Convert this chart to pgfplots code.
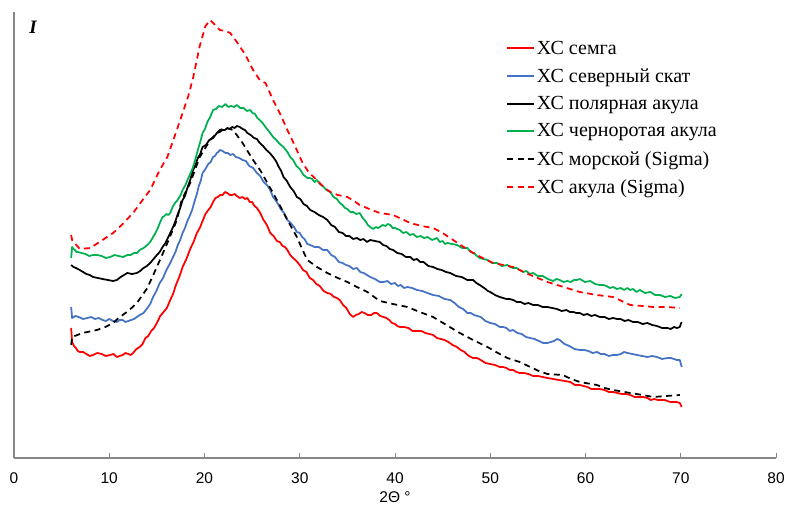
\documentclass[border=0pt]{standalone}
\usepackage{pgfplots}
\pgfplotsset{compat=1.18}
\usepackage{fontspec}
\setmainfont{Liberation Serif}
\newfontfamily\arial{Liberation Sans}
\definecolor{cred}{RGB}{255,0,0}
\definecolor{cblue}{RGB}{68,114,196}
\definecolor{cgreen}{RGB}{0,176,80}
\definecolor{axgray}{RGB}{134,134,134}
\begin{document}
\begin{tikzpicture}[x=1pt,y=1pt]
\path[use as bounding box] (0,0) rectangle (787,506);
\begin{axis}[
  at={(14pt,48pt)}, anchor=south west,
  width=762pt, height=446pt, scale only axis,
  xmin=0, xmax=80, ymin=0, ymax=446,
  axis lines=left,
  axis line style={-, draw=axgray, line width=1.3pt},
  xtick={0,10,...,80}, ytick=\empty,
  tick align=inside, major tick length=5pt,
  tick style={axgray, line width=0.9pt},
  /pgf/number format/assume math mode=true,
  xticklabel style={font=\arial\fontsize{15.5}{18}\selectfont, anchor=center, yshift=-20pt},
  xlabel={2Θ °},
  xlabel style={font=\arial\fontsize{15.5}{18}\selectfont, at={(axis description cs:0.5,0)}, anchor=center, yshift=-39pt},
  clip=false,
  legend style={draw=none, fill=none, at={(axis description cs:0.6457,0.94)}, anchor=north west,
    font=\fontsize{20}{22}\selectfont, row sep=8.7pt, inner sep=0pt,
    /tikz/every even column/.append style={column sep=8pt}},
  legend cell align=left,
  legend image code/.code={\draw[#1] (0pt,0pt) -- (27pt,0pt);},
  every axis plot/.append style={line width=1.75pt, line join=round},
]
% ХС семга
\addplot[cred] coordinates {
(6.0,130) (6.1,116) (6.3,112) (6.5,110) (6.7,107) (6.9,106) (7.25,106) (7.6,104) (7.95,102) (8.3,103) (8.75,105) (9.2,104) (9.65,102) (10.1,103) (10.45,104) (10.8,101) (11.1,102) (11.4,103) (11.7,105) (12.0,104) (12.25,103) (12.5,105) (12.85,109) (13.2,111) (13.5,114) (13.8,120) (14.1,122) (14.4,127) (14.7,130) (15.0,135) (15.35,142) (15.7,146) (16.05,150) (16.4,158) (16.7,164) (17.0,173) (17.35,181) (17.7,191) (18.1,199) (18.5,209) (18.85,216) (19.2,225) (19.5,230) (19.8,237) (20.1,244) (20.4,248) (20.65,251) (20.9,256) (21.15,260) (21.4,261) (21.65,263) (21.9,263) (22.15,266) (22.4,265) (22.65,263) (22.9,263) (23.15,264) (23.4,262) (23.7,260) (24.0,261) (24.25,259) (24.5,260) (24.75,256) (25.0,256) (25.25,252) (25.5,250) (25.85,245) (26.2,238) (26.55,233) (26.9,225) (27.25,222) (27.6,217) (27.9,216) (28.2,212) (28.45,211) (28.7,208) (29.0,203) (29.3,200) (29.65,197) (30.0,193) (30.35,188) (30.7,186) (31.05,180) (31.4,178) (31.75,174) (32.1,172) (32.5,167) (32.9,165) (33.25,164) (33.6,161) (33.9,160) (34.2,158) (34.55,153) (34.9,150) (35.25,144) (35.6,141) (35.9,143) (36.2,144) (36.5,146) (36.8,145) (37.15,143) (37.5,143) (37.8,145) (38.1,145) (38.45,142) (38.8,141) (39.1,140) (39.4,138) (39.7,135) (40.0,134) (40.25,132) (40.5,131) (40.95,131) (41.4,130) (41.85,127) (42.3,127) (42.75,127) (43.2,125) (43.6,124) (44.0,123) (44.4,120) (44.8,119) (45.2,118) (45.6,116) (46.05,113) (46.5,111) (46.9,108) (47.3,106) (47.75,102) (48.2,100) (48.6,100) (49.0,98) (49.5,95) (50.0,94) (50.5,93) (51.0,91) (51.35,91) (51.7,90) (52.05,88) (52.4,88) (52.75,86) (53.1,85) (53.55,85) (54.0,84) (54.5,82) (55.0,82) (55.5,81) (56.0,80) (56.6,79) (57.2,78) (57.8,77) (58.4,76) (58.9,73) (59.4,73) (59.8,72) (60.2,71) (60.6,69) (61.0,69) (61.5,69) (62.0,68) (62.45,66) (62.9,66) (63.35,65) (63.8,64) (64.25,64) (64.7,63) (65.15,61) (65.6,61) (66.05,61) (66.5,60) (66.85,58) (67.2,59) (67.6,58) (68.0,58) (68.3,58) (68.6,57) (68.9,56) (69.2,56) (69.55,56) (69.9,55) (70.1,51)
};
\addlegendentry{ХС семга}
% ХС северный скат
\addplot[cblue] coordinates {
(6.0,151) (6.1,140) (6.45,142) (6.8,141) (7.25,139) (7.7,140) (8.1,141) (8.5,139) (8.9,140) (9.3,138) (9.65,137) (10.0,139) (10.4,137) (10.8,136) (11.1,138) (11.4,138) (11.7,136) (12.0,137) (12.3,138) (12.6,139) (12.9,141) (13.2,143) (13.6,145) (14.0,150) (14.3,154) (14.6,161) (14.95,167) (15.3,175) (15.65,180) (16.0,188) (16.35,194) (16.7,201) (16.95,206) (17.2,213) (17.45,218) (17.7,225) (17.95,230) (18.2,237) (18.45,242) (18.7,248) (19.0,258) (19.2,264) (19.4,272) (19.6,277) (19.8,285) (20.1,289) (20.4,294) (20.65,296) (20.9,301) (21.1,302) (21.3,305) (21.45,306) (21.6,308) (21.9,307) (22.2,305) (22.45,305) (22.7,303) (23.0,304) (23.3,301) (23.65,300) (24.0,298) (24.35,297) (24.7,292) (25.1,290) (25.5,285) (25.85,282) (26.2,276) (26.55,273) (26.9,268) (27.2,261) (27.6,256) (28.0,249) (28.35,245) (28.7,238) (29.05,235) (29.4,231) (29.7,226) (30.0,225) (30.25,221) (30.5,219) (30.8,214) (31.1,213) (31.55,211) (32.0,211) (32.45,208) (32.9,208) (33.3,203) (33.7,201) (34.1,196) (34.5,195) (34.85,193) (35.2,192) (35.6,189) (36.0,190) (36.35,186) (36.7,185) (37.05,183) (37.4,181) (37.9,179) (38.4,176) (38.8,176) (39.2,177) (39.6,174) (40.0,175) (40.3,172) (40.6,173) (40.95,170) (41.3,171) (41.8,170) (42.3,168) (42.85,167) (43.4,165) (44.0,163) (44.6,162) (45.2,159) (45.8,158) (46.25,155) (46.7,151) (47.15,149) (47.6,145) (47.95,145) (48.3,143) (48.65,142) (49.0,141) (49.5,137) (50.0,135) (50.5,134) (51.0,131) (51.35,131) (51.7,130) (52.05,127) (52.4,128) (52.85,125) (53.3,124) (53.75,121) (54.2,120) (54.65,119) (55.1,117) (55.55,115) (56.0,115) (56.35,116) (56.7,117) (57.0,119) (57.3,118) (57.8,114) (58.3,112) (58.85,109) (59.4,108) (59.85,108) (60.3,107) (60.75,105) (61.2,106) (61.6,104) (62.0,104) (62.45,102) (62.9,103) (63.3,103) (63.7,104) (64.05,106) (64.4,105) (64.9,104) (65.4,103) (65.95,102) (66.5,101) (67.0,102) (67.5,101) (68.05,99) (68.6,100) (68.95,100) (69.3,99) (69.6,98) (69.9,98) (70.1,91)
};
\addlegendentry{ХС северный скат}
% ХС полярная акула
\addplot[black] coordinates {
(6.0,193) (6.25,191) (6.5,190) (6.7,189) (6.9,188) (7.25,186) (7.6,184) (7.95,183) (8.3,181) (8.8,180) (9.3,179) (9.85,178) (10.4,177) (10.8,178) (11.2,181) (11.55,183) (11.9,185) (12.4,184) (12.9,185) (13.25,187) (13.6,190) (13.95,192) (14.3,195) (14.65,199) (15.0,203) (15.3,206) (15.6,211) (15.9,215) (16.2,221) (16.45,226) (16.7,231) (16.95,237) (17.2,244) (17.45,250) (17.7,258) (17.95,262) (18.2,270) (18.5,278) (18.8,288) (19.05,293) (19.3,300) (19.55,304) (19.8,311) (20.15,313) (20.5,318) (20.9,320) (21.3,325) (21.6,326) (21.9,328) (22.15,328) (22.4,330) (22.65,329) (22.9,331) (23.15,330) (23.4,332) (23.7,331) (24.0,329) (24.25,328) (24.5,325) (24.85,323) (25.2,320) (25.5,319) (25.8,315) (26.15,312) (26.5,308) (26.85,305) (27.2,301) (27.5,297) (27.8,291) (28.05,287) (28.3,281) (28.65,277) (29.0,271) (29.35,267) (29.7,261) (30.05,259) (30.4,254) (30.75,252) (31.1,248) (31.55,246) (32.0,243) (32.45,241) (32.9,238) (33.3,233) (33.7,231) (34.1,226) (34.5,225) (34.85,222) (35.2,222) (35.6,219) (36.0,220) (36.35,218) (36.7,219) (37.05,216) (37.4,218) (37.9,217) (38.4,216) (38.75,213) (39.1,212) (39.45,209) (39.8,208) (40.25,205) (40.7,204) (41.15,201) (41.6,201) (41.95,198) (42.3,199) (42.65,196) (43.0,196) (43.5,192) (44.0,191) (44.45,189) (44.9,188) (45.35,186) (45.8,185) (46.4,182) (47.0,181) (47.6,178) (48.2,178) (48.55,175) (48.9,173) (49.2,171) (49.5,169) (49.75,167) (50.0,166) (50.5,163) (51.0,161) (51.35,160) (51.7,159) (52.05,159) (52.4,158) (52.8,156) (53.2,156) (53.6,154) (54.0,155) (54.5,153) (55.0,153) (55.5,151) (56.0,151) (56.5,150) (57.0,149) (57.5,147) (58.0,148) (58.35,146) (58.7,146) (59.05,145) (59.4,145) (59.8,143) (60.2,144) (60.6,142) (61.0,143) (61.5,141) (62.0,141) (62.45,139) (62.9,140) (63.3,139) (63.7,139) (64.1,137) (64.5,138) (65.0,136) (65.5,136) (66.0,134) (66.5,135) (67.0,133) (67.5,132) (68.05,130) (68.6,130) (68.95,129) (69.3,131) (69.6,130) (69.9,131) (70.0,134) (70.1,136)
};
\addlegendentry{ХС полярная акула}
% ХС черноротая акула
\addplot[cgreen] coordinates {
(6.0,200) (6.1,211) (6.25,209) (6.4,208) (6.55,206) (6.7,206) (7.1,205) (7.5,204) (7.9,202) (8.3,203) (8.75,203) (9.2,202) (9.65,200) (10.1,201) (10.55,203) (11.0,202) (11.45,201) (11.9,203) (12.25,203) (12.6,205) (12.9,205) (13.2,208) (13.6,210) (14.0,213) (14.3,216) (14.6,221) (14.85,225) (15.1,230) (15.35,236) (15.6,241) (15.8,242) (16.0,244) (16.2,243) (16.4,245) (16.65,251) (16.9,255) (17.1,257) (17.3,260) (17.5,263) (17.7,268) (18.0,273) (18.3,280) (18.55,285) (18.8,291) (19.05,299) (19.3,308) (19.55,316) (19.8,325) (20.05,329) (20.3,336) (20.6,341) (20.9,348) (21.2,349) (21.5,352) (21.85,351) (22.2,354) (22.5,351) (22.8,352) (23.1,351) (23.4,353) (23.75,350) (24.1,350) (24.45,347) (24.8,348) (25.05,345) (25.3,344) (25.55,340) (25.8,338) (26.1,335) (26.4,331) (26.65,328) (26.9,325) (27.2,321) (27.55,318) (27.9,314) (28.3,311) (28.7,306) (29.0,301) (29.3,298) (29.65,292) (30.0,289) (30.4,283) (30.8,280) (31.05,280) (31.3,279) (31.55,276) (31.8,278) (32.1,274) (32.4,272) (32.8,268) (33.2,266) (33.55,261) (33.9,259) (34.2,255) (34.5,253) (34.75,250) (35.0,249) (35.3,246) (35.6,246) (35.95,244) (36.3,245) (36.6,240) (36.9,237) (37.15,233) (37.4,231) (37.7,229) (38.0,231) (38.2,230) (38.4,231) (38.7,233) (39.0,232) (39.25,234) (39.5,233) (39.75,230) (40.0,230) (40.25,229) (40.5,228) (40.85,225) (41.2,226) (41.55,223) (41.9,224) (42.3,221) (42.7,222) (43.05,220) (43.4,221) (43.9,218) (44.4,220) (44.7,216) (45.0,217) (45.25,214) (45.5,215) (46.0,214) (46.5,213) (47.05,210) (47.6,210) (47.95,206) (48.3,205) (48.6,202) (48.9,200) (49.3,199) (49.7,198) (50.2,195) (50.7,195) (51.25,192) (51.8,193) (52.1,191) (52.4,190) (52.75,190) (53.1,188) (53.45,186) (53.8,187) (54.15,184) (54.5,185) (55.0,182) (55.5,182) (56.05,179) (56.6,177) (56.95,179) (57.3,178) (57.7,176) (58.1,177) (58.45,176) (58.8,178) (59.1,178) (59.4,179) (59.95,176) (60.5,177) (61.0,174) (61.5,173) (61.85,173) (62.2,172) (62.55,170) (62.9,171) (63.3,169) (63.7,170) (64.05,168) (64.4,170) (64.7,168) (65.0,169) (65.35,166) (65.7,168) (66.25,165) (66.8,166) (67.3,163) (67.8,163) (68.35,161) (68.9,162) (69.4,160) (69.9,161) (70.1,164)
};
\addlegendentry{ХС черноротая акула}
% ХС морской (Sigma)
\addplot[black, dash pattern=on 6pt off 4.5pt] coordinates {
(6.0,113) (6.1,121) (7.2,125) (8.7,128) (9.6,131) (10.4,135) (11.1,141) (12.0,147) (12.9,155) (14.0,170) (15.0,191)
(16.1,215) (17.1,238) (17.6,258) (18.5,275) (19.5,301) (20.6,318) (21.6,328) (22.3,330) (23.0,328) (24.0,315) (25.1,298)
(25.9,287) (26.6,275) (27.2,265) (28.0,251) (28.7,238) (29.7,221) (30.3,208) (30.8,198) (31.8,191) (32.9,185) (34.0,180)
(35.0,176) (36.0,171) (37.1,166) (38.4,157) (39.8,154) (41.3,151) (42.6,146) (44.0,141) (45.4,133) (46.8,125) (48.2,118)
(49.7,111) (50.8,105) (51.8,100) (53.1,96) (54.2,91) (55.1,87) (56.0,84) (57.6,83) (58.5,79) (59.4,76) (61.2,73)
(62.0,70) (62.9,68) (64.7,65) (66.0,63) (67.1,61) (68.5,62) (69.9,63)
};
\addlegendentry{ХС морской (Sigma)}
% ХС акула (Sigma)
\addplot[cred, dash pattern=on 6pt off 4.5pt] coordinates {
(6.0,223) (6.1,218) (6.9,209) (8.0,210) (9.3,218) (10.4,225) (11.1,231) (11.8,238) (12.5,245) (13.5,258) (14.3,268)
(15.3,288) (16.1,301) (17.1,328) (17.7,345) (18.3,362) (18.8,380) (19.5,412) (20.1,432) (20.6,438) (21.1,433) (21.6,428)
(22.2,427) (22.7,425) (23.4,416) (24.3,403) (25.1,388) (25.8,378) (26.4,375) (27.2,358) (28.0,343) (28.7,328) (29.5,312)
(30.3,295) (31.0,285) (31.8,278) (32.5,271) (33.2,266) (34.0,263) (35.0,261) (35.7,257) (36.3,253) (37.3,249) (38.4,245)
(39.1,244) (39.8,243) (40.7,239) (41.6,235) (42.8,232) (44.0,230) (45.0,225) (46.1,218) (47.2,211) (48.2,205) (49.2,200)
(50.3,195) (51.4,193) (52.4,191) (54.2,183) (56.0,176) (57.7,171) (59.4,166) (61.2,163) (62.9,161) (63.8,157) (64.7,153)
(66.0,152) (67.1,151) (68.5,151) (69.9,150)
};
\addlegendentry{ХС акула (Sigma)}
\end{axis}
\node[font=\bfseries\itshape\fontsize{19}{19}\selectfont] at (33,479) {I};
\end{tikzpicture}
\end{document}
